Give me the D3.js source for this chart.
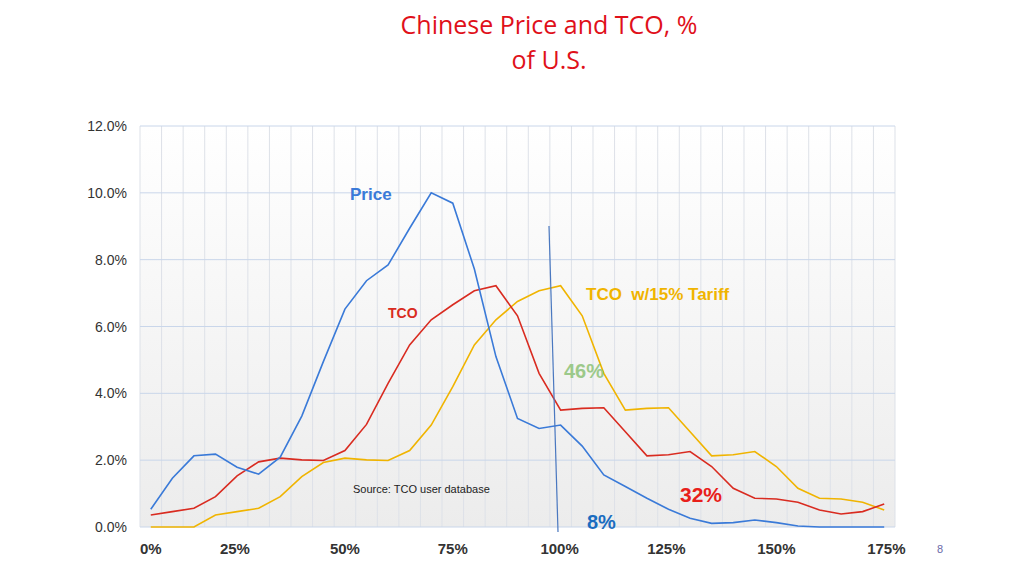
<!DOCTYPE html>
<html><head><meta charset="utf-8">
<script src="https://cdn.jsdelivr.net/npm/d3@7"></script>
<style>body{margin:0;background:#fff}svg{display:block}text{white-space:pre}</style>
</head><body>
<div class="chart"></div>
<script>
const WIDTH = 1024, HEIGHT = 576

// 35 bins
const price = [0.53,1.46,2.13,2.18,1.79,1.58,2.09,3.32,4.95,6.52,7.37,7.84,8.94,10.0,9.69,7.72,5.1,3.25,2.95,3.05,2.42,1.56,1.21,0.86,0.53,0.26,0.11,0.13,0.21,0.13,0.03,0,0,0,0]
const tco = [0.36,0.46,0.56,0.91,1.53,1.95,2.06,2.01,1.99,2.29,3.07,4.3,5.45,6.2,6.65,7.07,7.22,6.32,4.6,3.5,3.55,3.57,2.85,2.13,2.16,2.26,1.81,1.16,0.86,0.84,0.74,0.51,0.39,0.46,0.69]
const tcoTariff = [0,0,0,0.36,0.46,0.56,0.91,1.51,1.93,2.06,2.01,1.99,2.29,3.05,4.2,5.45,6.2,6.75,7.07,7.22,6.32,4.6,3.5,3.55,3.57,2.85,2.13,2.16,2.26,1.81,1.16,0.86,0.84,0.74,0.51]
const xTickIdx = [0,3.9,9,14,18.95,23.9,29,34.1]
const xTickLabels = ["0%","25%","50%","75%","100%","125%","150%","175%"]
const yTicks = [0,2,4,6,8,10,12]

const svg = d3.select(".chart").append("svg").attr("width", WIDTH).attr("height", HEIGHT)

const defs = svg.append("defs")
const grad = defs.append("linearGradient").attr("id","bg").attr("x1",0).attr("x2",0).attr("y1",0).attr("y2",1)
grad.append("stop").attr("offset","0%").attr("stop-color","#ffffff")
grad.append("stop").attr("offset","100%").attr("stop-color","#ececec")

const idx = d3.range(price.length)
const band = d3.scaleBand().domain(idx).range([140, 895])
const x = i => band(Math.floor(i)) + band.bandwidth() / 2 + (i - Math.floor(i)) * band.step()
const y = d3.scaleLinear().domain([0, 12]).range([527, 126])

svg.append("rect").attr("x",140).attr("y",126).attr("width",755).attr("height",401).attr("fill","url(#bg)")

// vertical grid at band edges
svg.append("g").selectAll("line").data(d3.range(price.length + 1)).join("line")
    .attr("x1", i => 140 + i * band.step()).attr("x2", i => 140 + i * band.step())
    .attr("y1", 126).attr("y2", 527)
    .attr("stroke", "#dde1e8").attr("stroke-width", 1)

// horizontal grid
svg.append("g").selectAll("line").data(yTicks).join("line")
    .attr("x1", 140).attr("x2", 895)
    .attr("y1", d => y(d)).attr("y2", d => y(d))
    .attr("stroke", "#c9d6ea").attr("stroke-width", 1)

svg.append("g").selectAll("text").data(yTicks).join("text")
    .attr("x", 127).attr("y", d => y(d) + 5)
    .attr("text-anchor", "end")
    .attr("font-family", "Liberation Sans, Arial").attr("font-size", 14).attr("fill", "#333")
    .text(d => d.toFixed(1) + "%")

svg.append("g").selectAll("text").data(xTickIdx).join("text")
    .attr("x", d => x(d)).attr("y", 554)
    .attr("text-anchor", "middle")
    .attr("font-family", "Liberation Sans, Arial").attr("font-size", 15).attr("font-weight", "bold").attr("fill", "#333")
    .text((d, i) => xTickLabels[i])

const line = d3.line().x((d, i) => x(i)).y(d => y(d))
const series = [[tcoTariff, "#f0b400"], [tco, "#d92b20"], [price, "#3a7ad8"]]
series.forEach(([s, c]) => {
    svg.append("path").datum(s).attr("d", line)
        .attr("fill", "none").attr("stroke", c).attr("stroke-width", 1.6)
})

// 100% marker line
svg.append("line").attr("x1", 549).attr("y1", 226).attr("x2", 558).attr("y2", 532)
    .attr("stroke", "#4a78c0").attr("stroke-width", 1.2)

function label(txt, lx, ly, size, color, weight) {
    svg.append("text").attr("x", lx).attr("y", ly)
        .attr("font-family", "Liberation Sans, Arial").attr("font-size", size)
        .attr("font-weight", weight || "bold").attr("fill", color).text(txt)
}
label("Price", 350, 200, 17, "#3a7ad8")
label("TCO", 388, 318, 14, "#d92b20")
label("TCO  w/15% Tariff", 586, 300, 17, "#f0b400")
label("46%", 564, 378, 20, "#9cc98a")
label("32%", 680, 502, 21, "#e8201a")
label("8%", 587, 529, 20, "#1a6cc0")
label("Source: TCO user database", 353, 493, 11, "#222", "normal")

svg.append("text").attr("x", 549).attr("y", 34).attr("text-anchor", "middle")
    .attr("font-family", "Open Sans, Liberation Sans").attr("font-size", 25).attr("fill", "#e0101a")
    .text("Chinese Price and TCO, %")
svg.append("text").attr("x", 549).attr("y", 69).attr("text-anchor", "middle")
    .attr("font-family", "Open Sans, Liberation Sans").attr("font-size", 25).attr("fill", "#e0101a")
    .text("of U.S.")

svg.append("text").attr("x", 940).attr("y", 553).attr("text-anchor", "middle")
    .attr("font-family", "Liberation Sans").attr("font-size", 11).attr("fill", "#6a6aa8").text("8")
</script>
</body></html>
